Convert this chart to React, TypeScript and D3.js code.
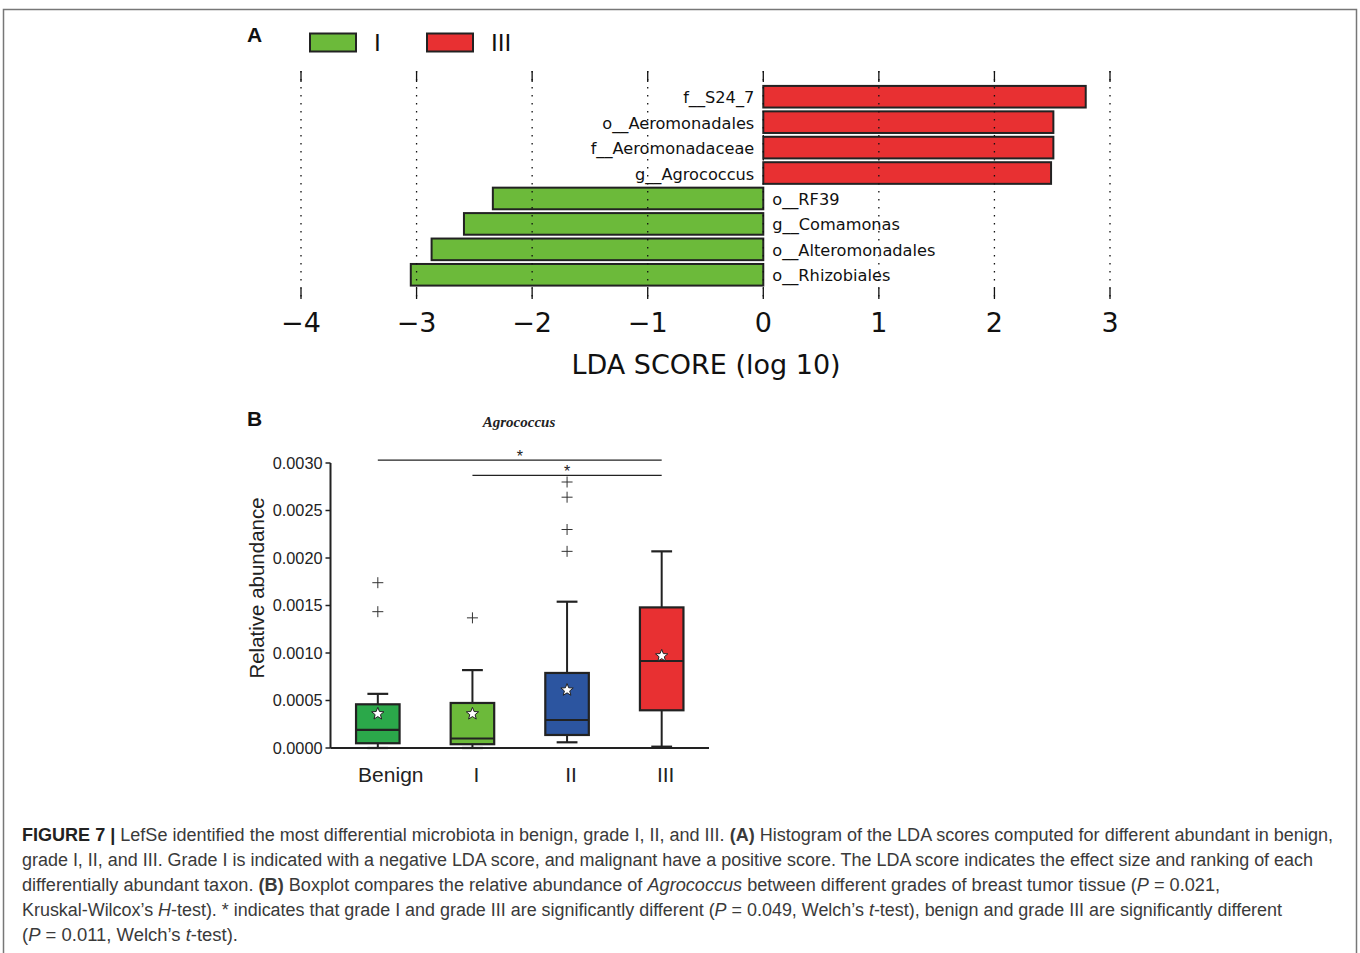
import React from "react";
import * as d3 from "d3";

// ---------- Panel A data ----------
const taxa = [
  "f__S24_7",
  "o__Aeromonadales",
  "f__Aeromonadaceae",
  "g__Agrococcus",
  "o__RF39",
  "g__Comamonas",
  "o__Alteromonadales",
  "o__Rhizobiales",
];
const ldaScores = [2.79, 2.51, 2.51, 2.49, -2.34, -2.59, -2.87, -3.05];
const ldaTicks = [-4, -3, -2, -1, 0, 1, 2, 3];
const legendLabels = ["I", "III"];

// ---------- Panel B data ----------
const groups = ["Benign", "I", "II", "III"];
const q1 = [0.00005, 0.00004, 0.000137, 0.000397];
const medians = [0.00019, 0.0001, 0.000295, 0.000916];
const q3 = [0.00046, 0.000474, 0.00079, 0.00148];
const whiskerLow = [0.0, 0.0, 0.00006, 0.000014];
const whiskerHigh = [0.00057, 0.00082, 0.00154, 0.00207];
const means = [0.00036, 0.00036, 0.00061, 0.00097];
const outliers = [[0.00174, 0.001435], [0.00137], [0.0028, 0.00264, 0.0023, 0.00207], []];
const yTicksB = [0, 0.0005, 0.001, 0.0015, 0.002, 0.0025, 0.003];
const sigPairs = [
  [0, 3],
  [1, 3],
];
const sigLevels = [0.00303, 0.00287];

const GREEN = "#6cba3a";
const RED = "#e83032";
const boxColors = ["#2ba84a", "#6cba3a", "#2c55a0", "#e83032"];
const DK = "#222";

function starPath(cx: number, cy: number, R: number, r: number) {
  const pts: string[] = [];
  for (let i = 0; i < 10; i++) {
    const a = -Math.PI / 2 + (i * Math.PI) / 5;
    const rad = i % 2 === 0 ? R : r;
    pts.push(`${(cx + rad * Math.cos(a)).toFixed(2)},${(cy + rad * Math.sin(a)).toFixed(2)}`);
  }
  return "M" + pts.join("L") + "Z";
}

function PanelA() {
  const x = d3.scaleLinear().domain([-4, 3]).range([301, 1110]);
  const y = d3.scaleBand<string>().domain(taxa).range([84, 287.5]).paddingInner(0.15).paddingOuter(0.075);
  const top = 71;
  const bottom = 299;
  const font = "'DejaVu Sans', sans-serif";
  return (
    <g>
      <text x={247} y={42} fontFamily="'Liberation Sans', Arial, sans-serif" fontWeight="bold" fontSize={21} fill="#111">A</text>
      {/* legend */}
      {legendLabels.map((lab, i) => (
        <g key={lab}>
          <rect x={310 + i * 117} y={33.5} width={46} height={18} fill={i === 0 ? GREEN : RED} stroke={DK} strokeWidth={2} />
          <text x={374 + i * 117} y={51} fontFamily={font} fontSize={23} fill="#111">{lab}</text>
        </g>
      ))}
      {/* bars */}
      {taxa.map((t, i) => {
        const v = ldaScores[i];
        const x0 = x(Math.min(0, v));
        const x1 = x(Math.max(0, v));
        return (
          <rect key={t} x={x0} y={y(t)!} width={x1 - x0} height={y.bandwidth()} fill={v > 0 ? RED : GREEN} stroke={DK} strokeWidth={2} />
        );
      })}
      {/* grid and ticks */}
      {ldaTicks.map((t) => (
        <g key={t}>
          <line x1={x(t)} x2={x(t)} y1={top} y2={bottom} stroke="#111" strokeWidth={1.3} strokeDasharray="1.5,6.5" />
          <line x1={x(t)} x2={x(t)} y1={top} y2={top + 11} stroke="#111" strokeWidth={1.3} />
          <line x1={x(t)} x2={x(t)} y1={bottom - 11} y2={bottom} stroke="#111" strokeWidth={1.3} />
          <text x={x(t)} y={332} textAnchor="middle" fontFamily={font} fontSize={27} fill="#111">
            {t < 0 ? "\u2212" + Math.abs(t) : String(t)}
          </text>
        </g>
      ))}
      {/* labels */}
      {taxa.map((t, i) => {
        const v = ldaScores[i];
        const cy = y(t)! + y.bandwidth() / 2 + 6.5;
        return (
          <text key={t} x={v > 0 ? x(0) - 9 : x(0) + 9} y={cy} textAnchor={v > 0 ? "end" : "start"} fontFamily={font} fontSize={16.2} fill="#111">
            {t}
          </text>
        );
      })}
      <text x={706} y={374} textAnchor="middle" fontFamily={font} fontSize={27} fill="#111">LDA SCORE (log 10)</text>
    </g>
  );
}

function PanelB() {
  const x = d3.scaleLinear().domain([0.5, 4.5]).range([330.5, 709]);
  const y = d3.scaleLinear().domain([0, 0.003]).range([748, 463]);
  const step = x(2) - x(1);
  const bw = step * 0.46;
  const cw = step * 0.22;
  const sans = "'Liberation Sans', Arial, sans-serif";
  return (
    <g>
      <text x={247} y={426} fontFamily={sans} fontWeight="bold" fontSize={21} fill="#111">B</text>
      <text x={519} y={427} textAnchor="middle" fontFamily="'Liberation Serif', 'Times New Roman', serif" fontStyle="italic" fontWeight="bold" fontSize={15} fill="#222">Agrococcus</text>
      {/* axes */}
      <line x1={x(0.5)} x2={x(0.5)} y1={y(0.003)} y2={y(0)} stroke={DK} strokeWidth={2} />
      <line x1={x(0.5)} x2={709} y1={y(0)} y2={y(0)} stroke={DK} strokeWidth={2} />
      {yTicksB.map((t) => (
        <g key={t}>
          <line x1={x(0.5) - 5} x2={x(0.5)} y1={y(t)} y2={y(t)} stroke={DK} strokeWidth={1.5} />
          <text x={x(0.5) - 8} y={y(t) + 5.5} textAnchor="end" fontFamily={sans} fontSize={16.3} fill="#222">{t.toFixed(4)}</text>
        </g>
      ))}
      <text transform={`translate(264,588) rotate(-90)`} textAnchor="middle" fontFamily={sans} fontSize={20.5} fill="#222">Relative abundance</text>
      {groups.map((g, i) => {
        const cx = x(i + 1);
        return (
          <g key={g}>
            {/* whiskers */}
            <line x1={cx} x2={cx} y1={y(q3[i])} y2={y(whiskerHigh[i])} stroke={DK} strokeWidth={2} />
            <line x1={cx} x2={cx} y1={y(q1[i])} y2={y(whiskerLow[i])} stroke={DK} strokeWidth={2} />
            <line x1={cx - cw / 2} x2={cx + cw / 2} y1={y(whiskerHigh[i])} y2={y(whiskerHigh[i])} stroke={DK} strokeWidth={2.2} />
            <line x1={cx - cw / 2} x2={cx + cw / 2} y1={y(whiskerLow[i])} y2={y(whiskerLow[i])} stroke={DK} strokeWidth={2.2} />
            {/* box */}
            <rect x={cx - bw / 2} y={y(q3[i])} width={bw} height={y(q1[i]) - y(q3[i])} fill={boxColors[i]} stroke={DK} strokeWidth={2.2} />
            <line x1={cx - bw / 2} x2={cx + bw / 2} y1={y(medians[i])} y2={y(medians[i])} stroke={DK} strokeWidth={2.2} />
            <path d={starPath(cx, y(means[i]), 6.5, 2.8)} fill="#fff" stroke={DK} strokeWidth={1} />
            {outliers[i].map((o, j) => (
              <g key={j} stroke="#333" strokeWidth={1}>
                <line x1={cx - 5.5} x2={cx + 5.5} y1={y(o)} y2={y(o)} />
                <line x1={cx} x2={cx} y1={y(o) - 5.5} y2={y(o) + 5.5} />
              </g>
            ))}
            <text x={cx + (i === 0 ? 13 : 4)} y={782} textAnchor="middle" fontFamily={sans} fontSize={21} fill="#222">{g}</text>
          </g>
        );
      })}
      {sigPairs.map((p, k) => {
        const x1 = x(p[0] + 1);
        const x2 = x(p[1] + 1);
        const yy = y(sigLevels[k]);
        return (
          <g key={k}>
            <line x1={x1} x2={x2} y1={yy} y2={yy} stroke={DK} strokeWidth={1.3} />
            <text x={(x1 + x2) / 2} y={yy + 2} textAnchor="middle" fontFamily={sans} fontSize={16} fill="#222">*</text>
          </g>
        );
      })}
    </g>
  );
}

function Caption() {
  const sans = "'Liberation Sans', Arial, Helvetica, sans-serif";
  const col = "#3a3a3a";
  const base = 840.5;
  const lh = 25.2;
  return (
    <g fontFamily={sans} fontSize={18} fill={col}>
      <text x={22} y={base} textLength={1311} lengthAdjust="spacingAndGlyphs">
        <tspan fontWeight="bold" fill="#222">FIGURE 7 | </tspan>
        LefSe identified the most differential microbiota in benign, grade I, II, and III. <tspan fontWeight="bold">(A)</tspan> Histogram of the LDA scores computed for different abundant in benign,
      </text>
      <text x={22} y={base + lh} textLength={1291} lengthAdjust="spacingAndGlyphs">
        grade I, II, and III. Grade I is indicated with a negative LDA score, and malignant have a positive score. The LDA score indicates the effect size and ranking of each
      </text>
      <text x={22} y={base + 2 * lh} textLength={1198} lengthAdjust="spacingAndGlyphs">
        differentially abundant taxon. <tspan fontWeight="bold">(B)</tspan> Boxplot compares the relative abundance of <tspan fontStyle="italic">Agrococcus</tspan> between different grades of breast tumor tissue (<tspan fontStyle="italic">P</tspan> = 0.021,
      </text>
      <text x={22} y={base + 3 * lh} textLength={1260} lengthAdjust="spacingAndGlyphs">
        Kruskal-Wilcox’s <tspan fontStyle="italic">H</tspan>-test). * indicates that grade I and grade III are significantly different (<tspan fontStyle="italic">P</tspan> = 0.049, Welch’s <tspan fontStyle="italic">t</tspan>-test), benign and grade III are significantly different
      </text>
      <text x={22} y={base + 4 * lh} textLength={216} lengthAdjust="spacingAndGlyphs">
        (<tspan fontStyle="italic">P</tspan> = 0.011, Welch’s <tspan fontStyle="italic">t</tspan>-test).
      </text>
    </g>
  );
}

export default function App() {
  return (
    <svg width={1360} height={953} style={{ position: "absolute", left: 0, top: 0, display: "block", background: "#fff" }}>
      <rect x={0} y={0} width={1360} height={953} fill="#fff" />
      <path d="M3.5,953 L3.5,9.5 L1356.5,9.5 L1356.5,953" fill="none" stroke="#777" strokeWidth={1.5} />
      <PanelA />
      <PanelB />
      <Caption />
    </svg>
  );
}
